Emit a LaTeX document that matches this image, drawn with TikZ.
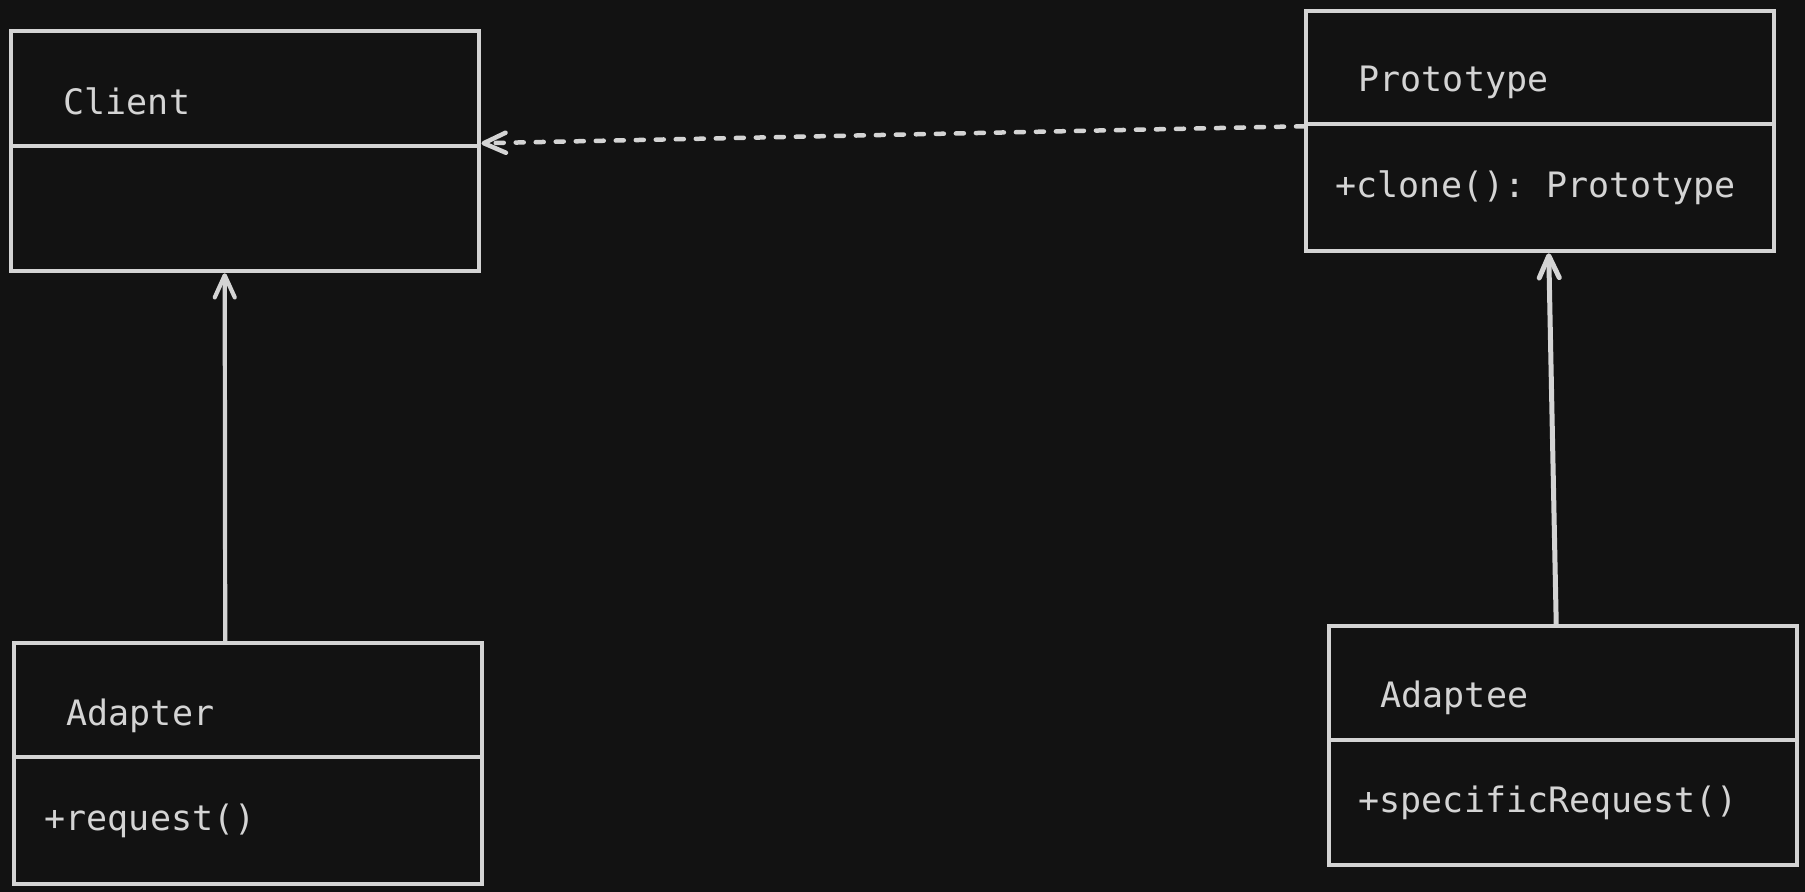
\documentclass[tikz,border=0pt]{standalone}
\usepackage{fontspec}
\setmonofont{DejaVu Sans Mono}
\usetikzlibrary{arrows.meta}
\definecolor{bg}{HTML}{121212}
\definecolor{ink}{HTML}{D4D4D4}
\begin{document}
\begin{tikzpicture}[x=0.01cm,y=-0.01cm]
\tikzstyle{classbox}=[draw=ink, line width=0.042cm, rectangle, inner sep=0pt, anchor=north west, minimum width=4.68cm]
\tikzstyle{classtext}=[text=ink, inner sep=0pt, anchor=base west, font=\ttfamily\fontsize{9.95}{12}\selectfont]
\tikzstyle{assoc}=[draw=ink, line width=0.042cm, line cap=round, -{Straight Barb[length=0.22cm,width=0.2cm,round]}]
\fill[bg] (0,0) rectangle (1805,892);
\useasboundingbox (0,0) rectangle (1805,892);

\node[classbox, minimum height=1.15cm] (clienthead) at (9,29) {};
\node[classbox, minimum height=1.25cm] (clientbody) at (9,144) {};
\node[classtext] (clientname) at (63,115) {Client};

\node[classbox, minimum height=1.13cm] (protohead) at (1304,9) {};
\node[classbox, minimum height=1.27cm] (protobody) at (1304,122) {};
\node[classtext] (protoname) at (1358,92) {Prototype};
\node[classtext] (protoop) at (1335,198) {+clone(): Prototype};

\node[classbox, minimum height=1.14cm] (adapterhead) at (12,641) {};
\node[classbox, minimum height=1.27cm] (adapterbody) at (12,755) {};
\node[classtext] (adaptername) at (66,726) {Adapter};
\node[classtext] (adapterop) at (44,831) {+request()};

\node[classbox, minimum height=1.14cm] (adapteehead) at (1327,624) {};
\node[classbox, minimum height=1.25cm] (adapteebody) at (1327,738) {};
\node[classtext] (adapteename) at (1380,708) {Adaptee};
\node[classtext] (adapteeop) at (1358,813) {+specificRequest()};

\draw[assoc] ([xshift=-0.23cm]adapterhead.north) -- ([xshift=-0.205cm]clientbody.south);
\draw[assoc, line width=0.05cm] ([xshift=-0.07cm]adapteehead.north) -- ([xshift=0.085cm]protobody.south);
\draw[assoc, line width=0.045cm, dash pattern=on 0.08cm off 0.12cm] (protohead.south west) -- ([yshift=0.05cm]clienthead.south east);
\end{tikzpicture}
\end{document}
